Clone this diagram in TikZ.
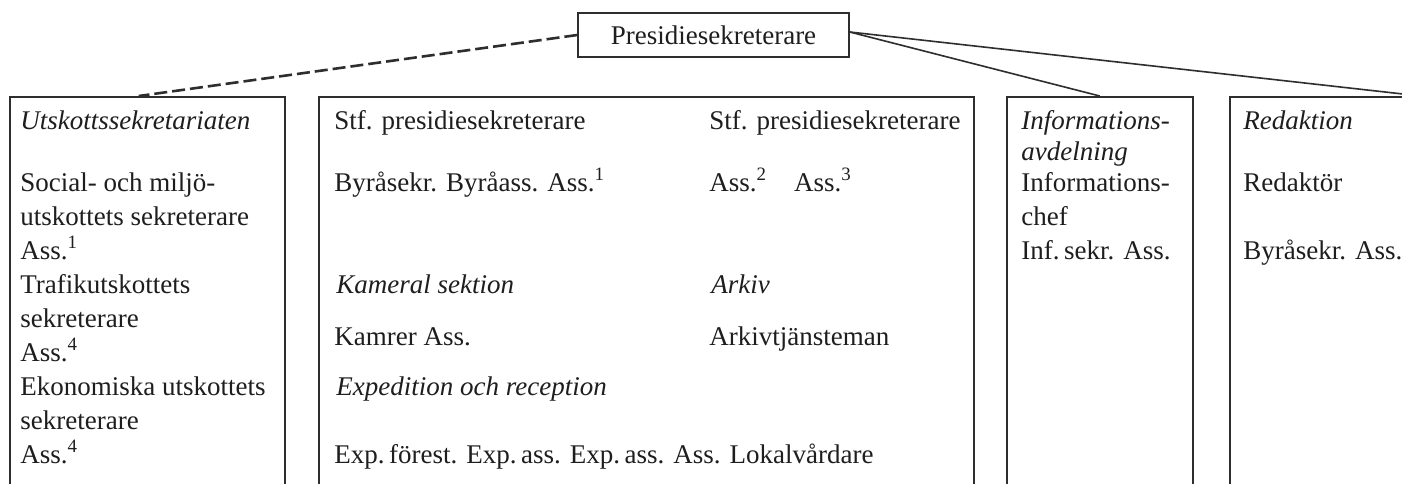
\documentclass[tikz,border=0pt]{standalone}
\usepackage{fontspec}
\setmainfont{Liberation Serif}
\definecolor{ink}{HTML}{1E1E1E}
\definecolor{rule}{HTML}{2E2E2E}
\begin{document}
\begin{tikzpicture}[x=0.5pt,y=-0.5pt,
  every node/.style={font=\fontsize{13.5}{16}\selectfont, text=ink},
  lbl/.style={anchor=west, inner sep=0pt, text height=0.72em, text depth=0.22em},
  head/.style={lbl, font=\fontsize{13.5}{16}\selectfont\itshape},
  unit/.style={draw=rule, line width=0.75pt, anchor=north west, inner sep=0pt, minimum height=200pt},
  chief/.style={draw=rule, line width=0.75pt, minimum width=135.5pt, minimum height=22pt, inner sep=0pt},
  link/.style={draw=rule, line width=0.8pt},
  dotlink/.style={draw=rule, line width=1.3pt, dash pattern=on 6.5pt off 2.5pt}
]
\useasboundingbox (0,0) rectangle (1402,483);
\clip (0,0) rectangle (1402,483);
\fill[white] (0,0) rectangle (1402,483);

% head of the secretariat
\node[chief] (top) at (713.5,35) {Presidiesekreterare};

% the four units, open towards the foot of the page
\node[unit, minimum width=137.5pt] (b1) at (9,96) {};
\node[unit, minimum width=327.5pt] (b2) at (318,96) {};
\node[unit, minimum width=93pt]    (b3) at (1006,96) {};
\node[unit, minimum width=191pt]   (b4) at (1229,96) {};

% reporting lines
\draw[dotlink] (top.west) -- ([xshift=-4.25pt]b1.north);
\draw[link] ([yshift=1.5pt]top.east) -- (b3.north);
\draw[link] ([yshift=1.5pt]top.east) -- (b4.north);

% Utskottssekretariaten
\node[head] (u0) at (20,124) {Utskottssekretariaten};
\node[lbl] (u1) at (20,186) {Social- och miljö-};
\node[lbl] (u2) at (20,220) {utskottets sekreterare};
\node[lbl] (u3) at (20,254) {Ass.\textsuperscript{1}};
\node[lbl] (u4) at (20,288) {Trafikutskottets};
\node[lbl] (u5) at (20,322) {sekreterare};
\node[lbl] (u6) at (20,356) {Ass.\textsuperscript{4}};
\node[lbl] (u7) at (20,390) {Ekonomiska utskottets};
\node[lbl] (u8) at (20,424) {sekreterare};
\node[lbl] (u9) at (20,458) {Ass.\textsuperscript{4}};

% deputies, sections
\node[lbl] (m1) at (334,124) {Stf. presidiesekreterare};
\node[lbl] (m2) at (334,186) {Byråsekr. Byråass. Ass.\textsuperscript{1}};
\node[head] (m3) at (336,288) {Kameral sektion};
\node[lbl] (m4) at (334,340) {Kamrer Ass.};
\node[head] (m5) at (336,390) {Expedition och reception};
\node[lbl] (m6) at (334,458) {Exp.\,förest. Exp.\,ass. Exp.\,ass. Ass. Lokalvårdare};

\node[lbl] (n1) at (709,124) {Stf. presidiesekreterare};
\node[lbl] (n2) at (709,186) {Ass.\textsuperscript{2}\quad Ass.\textsuperscript{3}};
\node[head] (n3) at (711,288) {Arkiv};
\node[lbl] (n4) at (709,340) {Arkivtjänsteman};

% Informationsavdelning
\node[head] (i0) at (1021,124) {Informations-};
\node[head] (i1) at (1021,155) {avdelning};
\node[lbl] (i2) at (1021,186) {Informations-};
\node[lbl] (i3) at (1021,220) {chef};
\node[lbl] (i4) at (1021,254) {Inf.\,sekr. Ass.};

% Redaktion
\node[head] (r0) at (1243,124) {Redaktion};
\node[lbl] (r1) at (1243,186) {Redaktör};
\node[lbl] (r2) at (1243,254) {Byråsekr. Ass.};
\end{tikzpicture}
\end{document}
